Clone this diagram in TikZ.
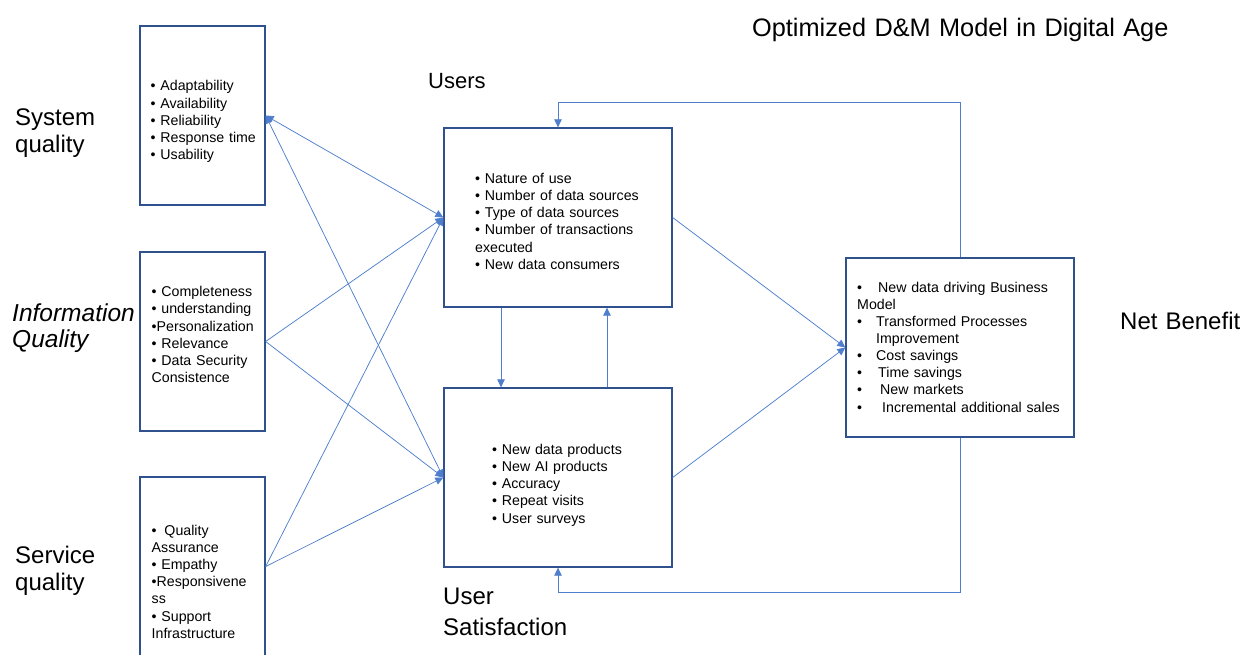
\documentclass[tikz,border=0pt]{standalone}
\usepackage{fontspec}
\setmainfont{Liberation Sans}
\usetikzlibrary{arrows.meta}

\definecolor{boxblue}{HTML}{2F528F}
\definecolor{lineblue}{HTML}{4F7FCC}
\newcommand{\nbul}[1][0pt]{\makebox[19pt][l]{•}\hspace*{#1}}

\tikzset{
  box/.style={draw=boxblue, line width=1.3pt, fill=white, minimum width=125pt, minimum height=179pt, inner sep=0pt},
  widebox/.style={box, minimum width=228pt},
  items/.style={anchor=base west, inner sep=0pt, text width=220pt, align=left, font=\fontsize{14.2}{17.2}\selectfont},
  heading/.style={anchor=base west, inner sep=0pt, text width=300pt, align=left, font=\fontsize{24}{27}\selectfont},
  link/.style={draw=lineblue, line width=0.75pt},
}

\begin{document}
\begin{tikzpicture}[x=1pt,y=-1pt,>={Triangle[length=8pt,width=7.5pt]}]
            \useasboundingbox (0,0) rectangle (1247,654);
            \node[heading, text width=450pt, font=\fontsize{25.3}{30}\selectfont] (title) at (752,36.7) {Optimized D\&M Model in Digital Age};
            \node[heading] (sysname) at (15,125.5) {System\\quality};
            \node[heading, font=\itshape\fontsize{24.5}{25.5}\selectfont] (infoname) at (12,321.7) {Information\\Quality};
            \node[heading] (servname) at (15,563) {Service\\quality};
            \node[heading, font=\fontsize{22}{26}\selectfont] (usersname) at (428,88.3) {Users};
            \node[heading, font=\fontsize{24}{30.7}\selectfont] (satname) at (443,604.3) {User\\Satisfaction};
            \node[heading] (netname) at (1120,329) {Net Benefit};
            \node[box] (sys) at (202.5,115.5) {};
            \node[box] (info) at (202.5,341.5) {};
            \node[box] (serv) at (202.5,566.5) {};
            \node[widebox] (users) at (558,217.5) {};
            \node[widebox] (sat) at (558,477.5) {};
            \node[widebox] (net) at (960,347.5) {};
            \node[items] (sysitems) at (150.5,90.8) {• Adaptability\\• Availability\\• Reliability\\• Response time\\• Usability};
            \node[items] (infoitems) at (151.5,296.7) {• Completeness\\• understanding\\•Personalization\\• Relevance\\• Data Security\\Consistence};
            \node[items] (servitems) at (151.5,535) {•\hspace{0.55em}Quality\\Assurance\\• Empathy\\•Responsivene\\ss\\• Support\\Infrastructure};
            \node[items] (usersitems) at (475,183.3) {• Nature of use\\• Number of data sources\\• Type of data sources\\• Number of transactions\\executed\\• New data consumers};
            \node[items] (satitems) at (492,454.3) {• New data products\\• New AI products\\• Accuracy\\• Repeat visits\\• User surveys};
            \node[items, font=\fontsize{14.2}{17.1}\selectfont] (netitems) at (857,292.3) {\nbul[2pt]New data driving Business\\Model\\\nbul Transformed Processes\\\hspace*{19pt}Improvement\\\nbul Cost savings\\\nbul[2pt]Time savings\\\nbul[4pt]New markets\\\nbul[6pt]Incremental additional sales};
            \draw[link,<->] (sys.east) -- (users.west);
            \draw[link,<->] (sys.east) -- (sat.west);
            \draw[link,->] (info.east) -- (users.west);
            \draw[link,->] (info.east) -- (sat.west);
            \draw[link,->] (serv.east) -- (users.west);
            \draw[link,->] (serv.east) -- (sat.west);
            \draw[link,->] (users.east) -- (net.west);
            \draw[link,->] (sat.east) -- (net.west);
            \draw[link,->] ([xshift=-57pt]users.south) -- ([xshift=-57pt]sat.north);
            \draw[link,->] ([xshift=49pt]sat.north) -- ([xshift=49pt]users.south);
            \draw[link,->] (net.north) -- ++(0,-155) -| (users.north);
            \draw[link,->] (net.south) -- ++(0,155) -| (sat.south);
        \end{tikzpicture}
\end{document}
